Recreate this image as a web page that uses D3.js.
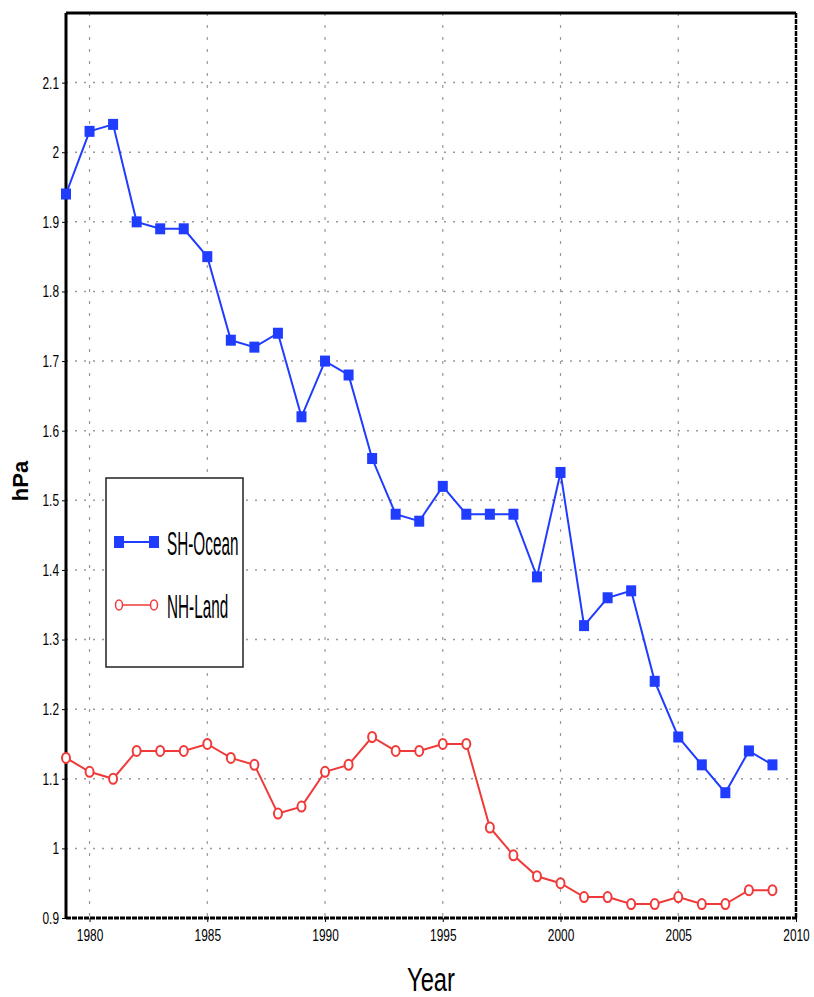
<!DOCTYPE html>
<html>
<head>
<meta charset="utf-8">
<script src="https://cdnjs.cloudflare.com/ajax/libs/d3/7.8.5/d3.min.js"></script>
<style>
  body { margin: 0; background: #fff; }
  svg text { font-family: "Liberation Sans", Arial, sans-serif; }
</style>
</head>
<body>
<div id="chart-area"></div>
<script>
var years = d3.range(1979, 2010);
var shOcean = [1.94, 2.03, 2.04, 1.90, 1.89, 1.89, 1.85, 1.73, 1.72, 1.74, 1.62, 1.70, 1.68, 1.56, 1.48, 1.47,
	1.52, 1.48, 1.48, 1.48, 1.39, 1.54, 1.32, 1.36, 1.37, 1.24, 1.16, 1.12, 1.08, 1.14, 1.12];
var nhLand = [1.13, 1.11, 1.10, 1.14, 1.14, 1.14, 1.15, 1.13, 1.12, 1.05, 1.06, 1.11, 1.12, 1.16, 1.14, 1.14,
	1.15, 1.15, 1.03, 0.99, 0.96, 0.95, 0.93, 0.93, 0.92, 0.92, 0.93, 0.92, 0.92, 0.94, 0.94];
var xTicks = [1980, 1985, 1990, 1995, 2000, 2005, 2010];
var yTicks = [0.9, 1, 1.1, 1.2, 1.3, 1.4, 1.5, 1.6, 1.7, 1.8, 1.9, 2, 2.1];
var seriesNames = ['SH-Ocean', 'NH-Land'];

var margin = { left: 66, right: 18, top: 13, bottom: 79 };
var width = 814 - margin.left - margin.right;
var height = 997 - margin.top - margin.bottom;

var svg = d3.select('#chart-area')
	.append('svg')
	.attr('width', 814)
	.attr('height', 997);
var g = svg.append('g')
	.attr('transform', `translate(${margin.left}, ${margin.top})`);

var x = d3.scaleLinear().domain([1979, 2010]).range([0, width]);
var y = d3.scaleLinear().domain([0.9, 2.2]).range([height, 0]);

// squeeze text horizontally, like the narrow bitmap font of the original
function condense(sel, k) {
	sel.each(function () {
		var t = d3.select(this);
		var x0 = +t.attr('x') || 0;
		t.attr('x', x0 / k).attr('transform', `scale(${k}, 1)`);
	});
}

// grid
g.selectAll('.vgrid').data(xTicks.filter(d => d < 2010)).enter().append('line')
	.attr('x1', d => x(d)).attr('x2', d => x(d))
	.attr('y1', 0).attr('y2', height)
	.attr('stroke', '#999').attr('stroke-width', 1.2)
	.attr('stroke-dasharray', '3,9');
g.selectAll('.hgrid').data(yTicks.filter(d => d > 0.9)).enter().append('line')
	.attr('x1', 0).attr('x2', width)
	.attr('y1', d => y(d)).attr('y2', d => y(d))
	.attr('stroke', '#999').attr('stroke-width', 1.5)
	.attr('stroke-dasharray', '2,7');

// axes
var xAxisCall = d3.axisBottom(x).tickValues(xTicks).tickFormat(d3.format('d')).tickSize(4);
var xAxis = g.append('g')
	.attr('transform', `translate(0, ${height})`)
	.call(xAxisCall);
xAxis.select('.domain').remove();
xAxis.selectAll('text').attr('font-size', '17px').attr('dy', '0.95em').attr('fill', '#000')
	.call(condense, 0.7);

var yAxisCall = d3.axisLeft(y).tickValues(yTicks).tickFormat(d3.format('')).tickSize(4);
var yAxis = g.append('g').call(yAxisCall);
yAxis.select('.domain').remove();
yAxis.selectAll('text').attr('font-size', '17px').attr('fill', '#000')
	.call(condense, 0.7);

// frame
g.append('line').attr('x1', 0).attr('x2', width).attr('y1', 0).attr('y2', 0)
	.attr('stroke', '#000').attr('stroke-width', 3);
g.append('line').attr('x1', 0).attr('x2', 0).attr('y1', 0).attr('y2', height)
	.attr('stroke', '#000').attr('stroke-width', 3);
g.append('line').attr('x1', 0).attr('x2', width).attr('y1', height).attr('y2', height)
	.attr('stroke', '#000').attr('stroke-width', 3).attr('stroke-dasharray', '5,1');
g.append('line').attr('x1', width).attr('x2', width).attr('y1', 0).attr('y2', height)
	.attr('stroke', '#000').attr('stroke-width', 2.5).attr('stroke-dasharray', '5,1');

// axis labels
svg.append('text')
	.attr('x', 431).attr('y', 991)
	.attr('text-anchor', 'middle')
	.attr('font-size', '34px')
	.text('Year')
	.call(condense, 0.7);
svg.append('text')
	.attr('transform', 'translate(28, 481) rotate(-90)')
	.attr('text-anchor', 'middle')
	.attr('font-size', '22px')
	.attr('font-weight', 'bold')
	.text('hPa');

// lines
var line = d3.line().x((d, i) => x(years[i])).y(d => y(d));

g.append('path').datum(shOcean)
	.attr('fill', 'none').attr('stroke', '#1f3cff').attr('stroke-width', 2)
	.attr('d', line);
g.selectAll('.sq').data(shOcean).enter().append('rect')
	.attr('x', (d, i) => x(years[i]) - 5)
	.attr('y', d => y(d) - 5.5)
	.attr('width', 10).attr('height', 11)
	.attr('fill', '#1f3cff');

g.append('path').datum(nhLand)
	.attr('fill', 'none').attr('stroke', '#f03a3a').attr('stroke-width', 2)
	.attr('d', line);
g.selectAll('.circ').data(nhLand).enter().append('ellipse')
	.attr('cx', (d, i) => x(years[i]))
	.attr('cy', d => y(d))
	.attr('rx', 4).attr('ry', 5)
	.attr('fill', '#fff').attr('stroke', '#f03a3a').attr('stroke-width', 2);

// legend
var legend = svg.append('g').attr('transform', 'translate(106, 478)');
legend.append('rect')
	.attr('width', 137).attr('height', 189)
	.attr('fill', '#fff').attr('stroke', '#222').attr('stroke-width', 1.5);

var legendBlue = legend.append('g').attr('transform', 'translate(0, 64)');
legendBlue.append('line').attr('x1', 13).attr('x2', 48).attr('y1', 0).attr('y2', 0)
	.attr('stroke', '#1f3cff').attr('stroke-width', 2);
[13, 48].forEach(cx => {
	legendBlue.append('rect').attr('x', cx - 5).attr('y', -6).attr('width', 10).attr('height', 12)
		.attr('fill', '#1f3cff');
});
legendBlue.append('text').attr('x', 61).attr('y', 13)
	.attr('font-size', '34px')
	.text(seriesNames[0])
	.call(condense, 0.45);

var legendRed = legend.append('g').attr('transform', 'translate(0, 127)');
legendRed.append('line').attr('x1', 13).attr('x2', 48).attr('y1', 0).attr('y2', 0)
	.attr('stroke', '#f03a3a').attr('stroke-width', 1.5);
[13, 48].forEach(cx => {
	legendRed.append('ellipse').attr('cx', cx).attr('cy', 0).attr('rx', 3.5).attr('ry', 5)
		.attr('fill', '#fff').attr('stroke', '#f03a3a').attr('stroke-width', 1.5);
});
legendRed.append('text').attr('x', 61).attr('y', 13)
	.attr('font-size', '34px')
	.text(seriesNames[1])
	.call(condense, 0.45);
</script>
</body>
</html>
